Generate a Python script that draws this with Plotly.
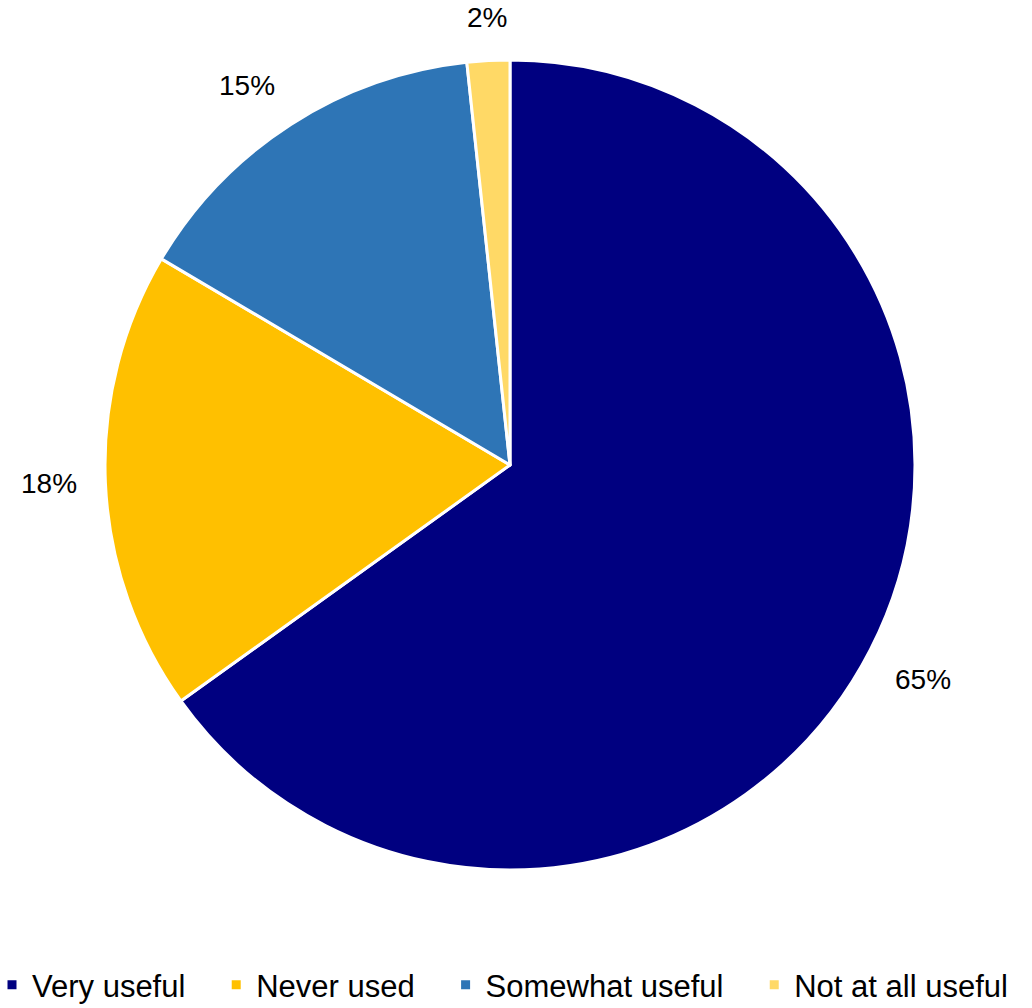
import math
import plotly.graph_objects as go

# Survey responses: how useful respondents found the resource (share of respondents, %)
categories = ["Very useful", "Never used", "Somewhat useful", "Not at all useful"]
shares = [65.1, 18.4, 14.8, 1.7]
colors = ["#000080", "#FFC000", "#2E75B6", "#FFD966"]

W, H = 1032, 1008
M = dict(l=0, r=12, t=60, b=138)
plot_w = W - M["l"] - M["r"]
plot_h = H - M["t"] - M["b"]
radius = min(plot_w, plot_h) / 2
label_gap = 26  # px between pie edge and its percentage label
font_family = "Liberation Sans, Arial, sans-serif"

fig = go.Figure(
    go.Pie(
        labels=[c + "\u00a0\u00a0\u00a0" if i < len(categories) - 1 else c
                for i, c in enumerate(categories)],
        values=shares,
        sort=False,
        direction="clockwise",
        rotation=0,
        marker=dict(colors=colors, line=dict(color="white", width=3)),
        textinfo="none",
        hovertemplate="%{label}: %{percent}<extra></extra>",
    )
)

# Percentage labels placed just outside each slice, at its mid-angle
total = sum(shares)
start = 0.0
for val in shares:
    sweep = 360.0 * val / total
    mid = math.radians(start + sweep / 2)
    start += sweep
    s, c = math.sin(mid), math.cos(mid)
    dx = (radius + label_gap) * s
    dy = (radius + label_gap) * c
    xanchor = "left" if s > 0.3 else ("right" if s < -0.3 else "center")
    yanchor = "bottom" if c > 0.3 else ("top" if c < -0.3 else "middle")
    fig.add_annotation(
        x=0.5 + dx / plot_w,
        y=0.5 + dy / plot_h,
        xref="paper",
        yref="paper",
        text=f"{round(100 * val / total)}%",
        showarrow=False,
        xanchor=xanchor,
        yanchor=yanchor,
        font=dict(family=font_family, size=28, color="black"),
    )

fig.update_layout(
    width=W,
    height=H,
    margin=dict(**M, autoexpand=False),
    paper_bgcolor="white",
    plot_bgcolor="white",
    font=dict(family=font_family, color="black"),
    showlegend=True,
    legend=dict(
        orientation="h",
        x=-8 / plot_w,
        xanchor="left",
        y=(870 - 985) / plot_h,
        yanchor="middle",
        font=dict(size=31, color="black"),
        traceorder="normal",
        itemclick=False,
    ),
)

fig.write_html("out.html")
